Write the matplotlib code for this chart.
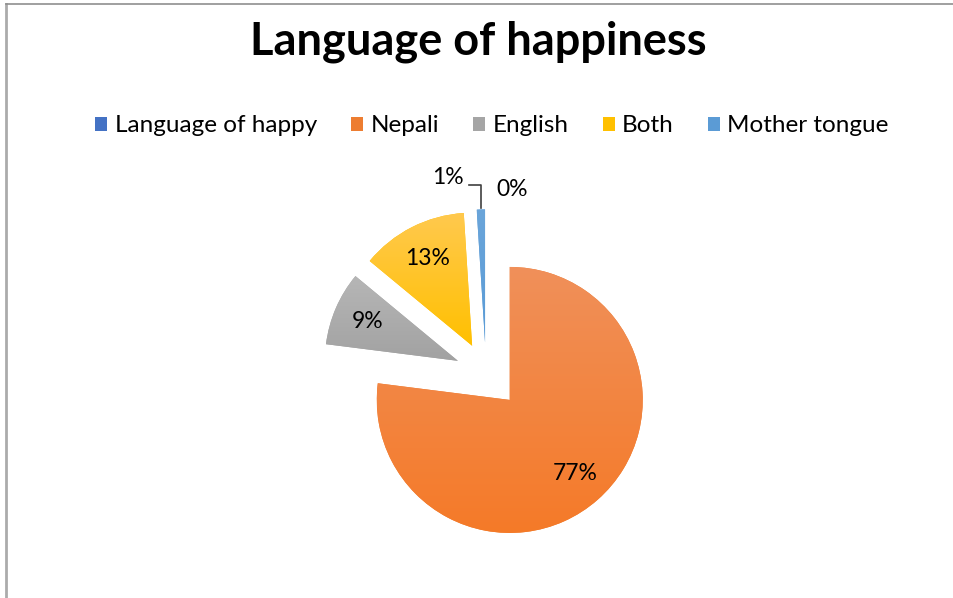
import numpy as np
import matplotlib.pyplot as plt
from matplotlib.colors import to_rgb
from matplotlib.patches import Rectangle

plt.rcParams["font.family"] = ["Lato", "DejaVu Sans"]

# survey answers, share of respondents
categories = ["Language of happy", "Nepali", "English", "Both", "Mother tongue"]
shares = [0, 77, 9, 13, 1]
colors = ["#4472C4", "#ED7D31", "#A5A5A5", "#FFC000", "#5B9BD5"]
# gradient ends for the slice fills (top -> bottom)
grad_top = ["#5B85CF", "#F0905A", "#B6B6B6", "#FFC94E", "#6AA5DA"]
grad_bot = ["#3F6FC4", "#F57A28", "#A2A2A2", "#FFC000", "#5A9BD6"]
title = "Language of happiness"

W, H = 954, 598
fig = plt.figure(figsize=(W / 100, H / 100), dpi=100)
ax = fig.add_axes([0, 0, 1, 1])

R = 133
cx, cy = 486, H - 373
# pie() offsets by explode in data units, so scale by radius
explode = [0, 0.27 * R, 0.23 * R, 0.23 * R, 0.23 * R]
wedges, _ = ax.pie(shares, colors=colors, explode=explode, startangle=90,
                   counterclock=False, radius=R, center=(cx, cy))
ax.set_xlim(0, W)
ax.set_ylim(0, H)
ax.set_aspect("equal")
ax.axis("off")

# vertical gradient fill, lighter at the top
for w, c0, c1 in zip(wedges, grad_top, grad_bot):
    if w.theta2 - w.theta1 < 1e-6:
        continue
    ext = w.get_path().get_extents()
    top, bot = np.array(to_rgb(c0)), np.array(to_rgb(c1))
    t = np.linspace(0, 1, 256)[:, None, None]
    grad = top * (1 - t) + bot * t
    im = ax.imshow(grad, extent=(ext.x0, ext.x1, ext.y0, ext.y1),
                   origin="upper", aspect="auto", zorder=w.get_zorder() + 0.1)
    im.set_clip_path(w)

total = sum(shares)
pct = [v / total * 100 for v in shares]

# labels inside the larger slices
for w, p in zip(wedges, pct):
    if p < 5:
        continue
    mid = np.deg2rad((w.theta1 + w.theta2) / 2)
    d = 0.74 * w.r
    x = w.center[0] + d * np.cos(mid)
    y = w.center[1] + d * np.sin(mid)
    ax.text(x, y, f"{p:.0f}%", ha="center", va="center", fontsize=16.5,
            color="#000000", zorder=5)

# tiny slices get outside labels
ax.text(448, H - 178, f"{pct[4]:.0f}%", ha="center", va="center", fontsize=16.5, zorder=5)
ax.text(512, H - 190, f"{pct[0]:.0f}%", ha="center", va="center", fontsize=16.5, zorder=5)
ax.plot([469, 481, 481], [H - 185, H - 185, H - 208], color="#404040", lw=1.2, zorder=5)

fig.text(478 / W, 1 - 42 / H, title, ha="center", va="center",
         fontsize=32.5, fontweight="bold")

handles = [Rectangle((0, 0), 1, 1, facecolor=c) for c in colors]
fig.legend(handles, categories, loc="center", bbox_to_anchor=(492 / W, 1 - 126 / H),
           ncol=5, frameon=False, fontsize=17.5, handlelength=0.5, handleheight=0.5,
           handletextpad=0.3, columnspacing=1.4)

# chart border
fig.add_artist(plt.Line2D([6.5 / W, 6.5 / W], [0, 1 - 4 / H], color="#ABABAB", lw=2,
                          transform=fig.transFigure))
fig.add_artist(plt.Line2D([6 / W, 1], [1 - 4 / H, 1 - 4 / H], color="#8F8F8F", lw=1.2,
                          transform=fig.transFigure))

fig.savefig("out.png", dpi=100, facecolor="white")
